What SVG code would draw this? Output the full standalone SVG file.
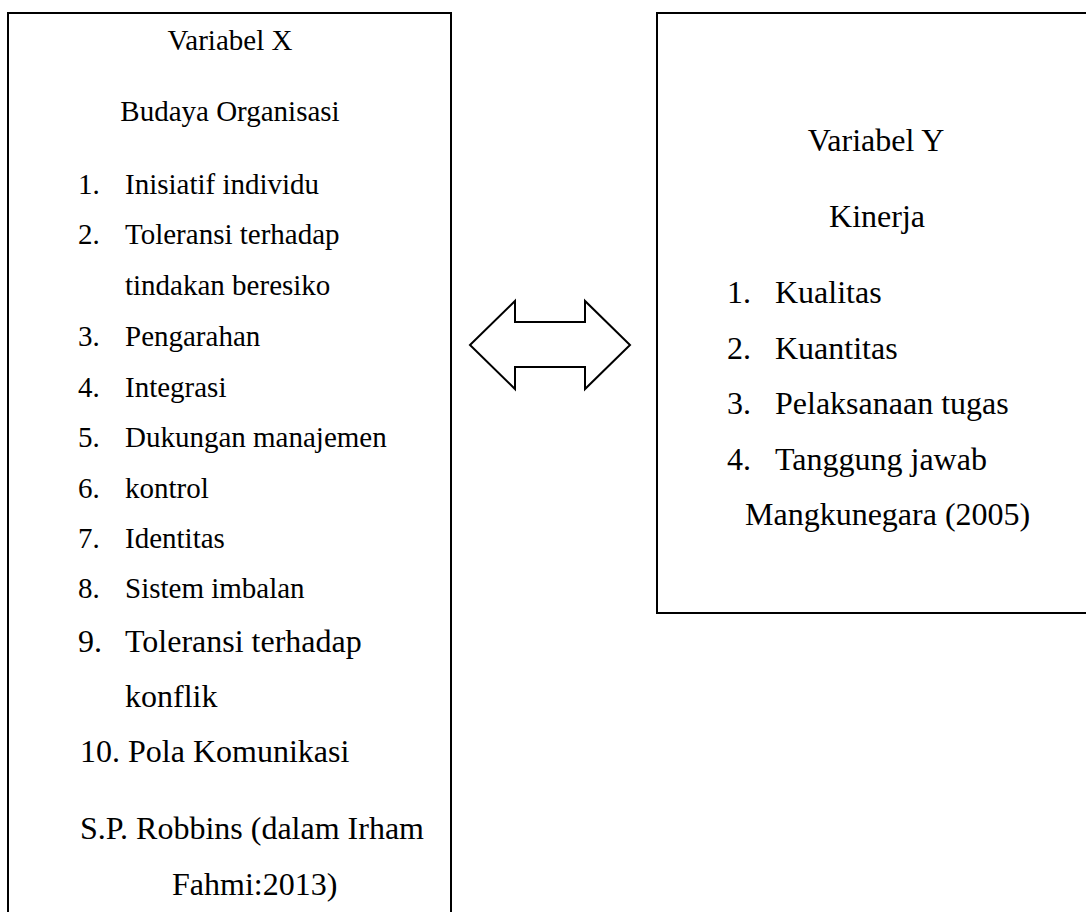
<svg xmlns="http://www.w3.org/2000/svg" width="1086" height="912" viewBox="0 0 1086 912">
<style>
.box{fill:#fff;stroke:#000;stroke-width:2}
text{font-family:'Liberation Serif','DejaVu Serif',serif;fill:#000}
.s29{font-size:29px}
.s32{font-size:32px}
.c{text-anchor:middle}
.arrow{fill:#fff;stroke:#000;stroke-width:2;stroke-linejoin:miter}
</style>
<rect width="1086" height="912" fill="#fff"/>
<g id="node-x">
<rect class="box" x="8" y="13" width="443" height="1000"/>
<text class="s29 c" x="230" y="50">Variabel X</text>
<text class="s29 c" x="230" y="121">Budaya Organisasi</text>
<g class="s29">
<text x="78" y="194">1.</text><text x="125" y="194">Inisiatif individu</text>
<text x="78" y="244">2.</text><text x="125" y="244">Toleransi terhadap</text>
<text x="125" y="295">tindakan beresiko</text>
<text x="78" y="346">3.</text><text x="125" y="346">Pengarahan</text>
<text x="78" y="397">4.</text><text x="125" y="397">Integrasi</text>
<text x="78" y="447">5.</text><text x="125" y="447">Dukungan manajemen</text>
<text x="78" y="498">6.</text><text x="125" y="498">kontrol</text>
<text x="78" y="548">7.</text><text x="125" y="548">Identitas</text>
<text x="78" y="598">8.</text><text x="125" y="598">Sistem imbalan</text>
</g>
<g class="s32">
<text x="78" y="652">9.</text><text x="125" y="652">Toleransi terhadap</text>
<text x="125" y="707">konflik</text>
<text x="80" y="762">10. Pola Komunikasi</text>
<text x="80" y="839">S.P. Robbins (dalam Irham</text>
<text x="172" y="895">Fahmi:2013)</text>
</g>
</g>
<g id="node-y">
<rect class="box" x="657" y="13" width="500" height="600"/>
<g class="s32">
<text class="c" x="876" y="151">Variabel Y</text>
<text class="c" x="877" y="227">Kinerja</text>
<text x="727" y="303">1.</text><text x="775" y="303">Kualitas</text>
<text x="727" y="359">2.</text><text x="775" y="359">Kuantitas</text>
<text x="727" y="414">3.</text><text x="775" y="414">Pelaksanaan tugas</text>
<text x="727" y="470">4.</text><text x="775" y="470">Tanggung jawab</text>
<text x="745" y="525">Mangkunegara (2005)</text>
</g>
</g>
<g id="connectors">
<path class="arrow" d="M470,345 L515,301 L515,322 L585,322 L585,301 L630,345 L585,389 L585,367 L515,367 L515,389 Z"/>
</g>
</svg>
